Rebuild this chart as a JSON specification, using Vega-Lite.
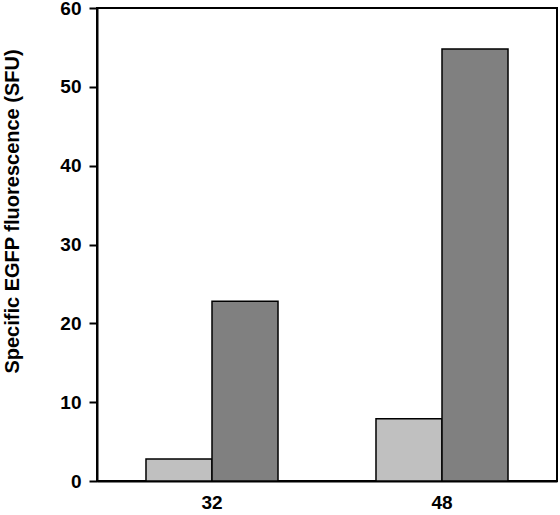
{
  "$schema": "https://vega.github.io/schema/vega-lite/v6.json",
  "width": 460,
  "height": 473,
  "autosize": {"type": "none"},
  "padding": {"left": 97, "top": 8, "right": 3, "bottom": 34},
  "background": "white",
  "config": {"view": {"stroke": "black", "strokeWidth": 2}, "font": "Liberation Sans"},
  "data": {
    "values": [
      {"time": "32", "group": "light", "value": 2.8},
      {"time": "32", "group": "dark", "value": 22.8},
      {"time": "48", "group": "light", "value": 7.9},
      {"time": "48", "group": "dark", "value": 54.8}
    ]
  },
  "mark": {"type": "bar", "stroke": "black", "strokeWidth": 1.5},
  "encoding": {
    "x": {
      "field": "time",
      "type": "nominal",
      "sort": ["32", "48"],
      "scale": {"paddingInner": 0.426, "paddingOuter": 0.213},
      "axis": {
        "title": null,
        "labelAngle": 0,
        "ticks": false,
        "labelFontSize": 19,
        "labelFontWeight": "bold",
        "labelColor": "black",
        "labelPadding": 12,
        "domainColor": "black",
        "domainWidth": 2
      }
    },
    "xOffset": {"field": "group", "type": "nominal", "sort": ["light", "dark"]},
    "y": {
      "field": "value",
      "type": "quantitative",
      "scale": {"domain": [0, 60]},
      "axis": {
        "values": [0, 10, 20, 30, 40, 50, 60],
        "grid": false,
        "tickSize": 8,
        "tickColor": "black",
        "tickWidth": 2,
        "domainColor": "black",
        "domainWidth": 2,
        "labelFontSize": 19,
        "labelFontWeight": "bold",
        "labelColor": "black",
        "labelPadding": 8,
        "title": "Specific EGFP fluorescence (SFU)",
        "titleFontSize": 20,
        "titleFontWeight": "bold",
        "titleColor": "black",
        "titleX": -75,
        "titleY": 203
      }
    },
    "color": {
      "field": "group",
      "type": "nominal",
      "scale": {"domain": ["light", "dark"], "range": ["#c0c0c0", "#808080"]},
      "legend": null
    }
  }
}
